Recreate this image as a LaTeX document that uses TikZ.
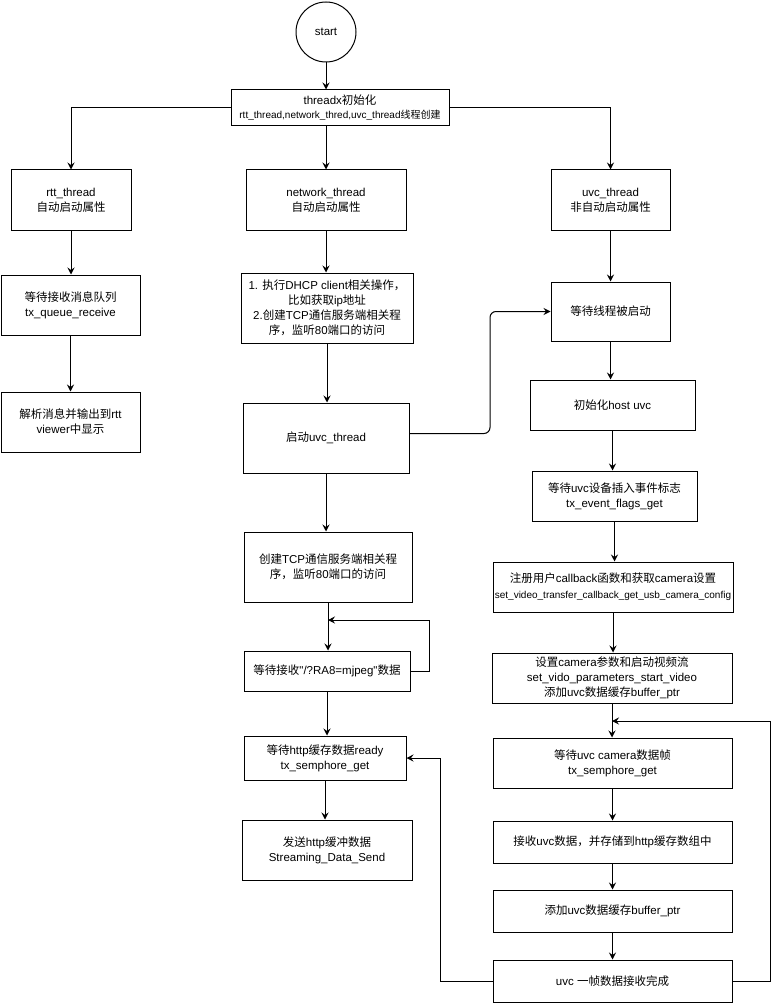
\documentclass[tikz,border=0pt]{standalone}
\usepackage{fontspec}
\setmainfont{Liberation Sans}
\newfontfamily\cjkfam{Noto Sans CJK SC}
\newXeTeXintercharclass\cjkcls
\newcount\cjkcc
\cjkcc="2E80 \loop\XeTeXcharclass\cjkcc=\cjkcls\advance\cjkcc by 1 \ifnum\cjkcc<"A000 \repeat
\cjkcc="FF00 \loop\XeTeXcharclass\cjkcc=\cjkcls\advance\cjkcc by 1 \ifnum\cjkcc<"FFF0 \repeat
\XeTeXinterchartoks 0 \cjkcls={\cjkfam}
\XeTeXinterchartoks 4095 \cjkcls={\cjkfam}
\XeTeXinterchartoks \cjkcls 0={\rmfamily}
\XeTeXinterchartoks \cjkcls 4095={\rmfamily}
\XeTeXinterchartokenstate=1
\usetikzlibrary{arrows.meta}
\begin{document}
\begin{tikzpicture}[x=1pt,y=-1pt,
  box/.style={draw, line width=1pt, inner sep=0pt, align=center, font=\fontsize{11.5}{15}\selectfont},
  arr/.style={-{Stealth[length=7pt,width=7pt,inset=2.5pt]}, line width=1pt},
  ln/.style={line width=1pt}]
\useasboundingbox (0,0) rectangle (780,1003);
% nodes
\node[box, circle, minimum size=60pt] (start) at (326,32) {start};
\node[box, minimum width=218pt, minimum height=36pt] (init) at (340,108) {threadx初始化\\[-1pt]{\fontsize{10}{11}\selectfont rtt\_thread,network\_thred,uvc\_thread线程创建}};
% left column
\node[box, minimum width=120pt, minimum height=60pt] (rtt) at (71,200) {rtt\_thread\\自动启动属性};
\node[box, minimum width=139pt, minimum height=60pt] (queue) at (70.5,305) {等待接收消息队列\\tx\_queue\_receive};
\node[box, minimum width=139pt, minimum height=60pt] (parse) at (70.5,422) {解析消息并输出到rtt\\viewer中显示};
% middle column
\node[box, minimum width=160pt, minimum height=60pt] (net) at (326,200) {network\_thread\\自动启动属性};
\node[box, minimum width=172pt, minimum height=70pt] (dhcp) at (327,308) {1. 执行DHCP client相关操作，\\比如获取ip地址\\2.创建TCP通信服务端相关程\\序，监听80端口的访问};
\node[box, minimum width=166pt, minimum height=70pt] (startuvc) at (326,438) {启动uvc\_thread};
\node[box, minimum width=168pt, minimum height=70pt] (tcp) at (328,567) {创建TCP通信服务端相关程\\序，监听80端口的访问};
\node[box, minimum width=166pt, minimum height=40pt] (waitrecv) at (327,671) {等待接收\textquotedbl/?RA8=mjpeg\textquotedbl 数据};
\node[box, minimum width=162pt, minimum height=44pt] (waithttp) at (325,758) {等待http缓存数据ready\\tx\_semphore\_get};
\node[box, minimum width=170pt, minimum height=60pt] (send) at (327,850) {发送http缓冲数据\\Streaming\_Data\_Send};
% right column
\node[box, minimum width=119pt, minimum height=60pt] (uvc) at (610.5,200) {uvc\_thread\\非自动启动属性};
\node[box, minimum width=119pt, minimum height=59pt] (waitstart) at (610.5,311.5) {等待线程被启动};
\node[box, minimum width=165pt, minimum height=50pt] (hostuvc) at (612.5,405) {初始化host uvc};
\node[box, minimum width=165pt, minimum height=50pt] (waitdev) at (614.5,496) {等待uvc设备插入事件标志\\tx\_event\_flags\_get};
\node[box, minimum width=240pt, minimum height=50pt] (reg) at (613,587) {注册用户callback函数和获取camera设置\\[1pt]{\fontsize{10}{11}\selectfont set\_video\_transfer\_callback\_get\_usb\_camera\_config}};
\node[box, minimum width=240pt, minimum height=50pt] (setcam) at (612,678) {设置camera参数和启动视频流\\set\_vido\_parameters\_start\_video\\添加uvc数据缓存buffer\_ptr};
\node[box, minimum width=239pt, minimum height=50pt] (waitframe) at (612.5,763) {等待uvc camera数据帧\\tx\_semphore\_get};
\node[box, minimum width=239pt, minimum height=42pt] (recv) at (612.5,842) {接收uvc数据，并存储到http缓存数组中};
\node[box, minimum width=239pt, minimum height=42pt] (addbuf) at (612.5,911) {添加uvc数据缓存buffer\_ptr};
\node[box, minimum width=239pt, minimum height=42pt] (done) at (612.5,981) {uvc 一帧数据接收完成};
% helper coordinates
\coordinate (r1) at (490,0);
\coordinate (m1) at (0,620);
\coordinate (rl) at (0,721);
% connectors
\draw[arr] (start.south) -- (start.south |- init.north);
\draw[arr] (init.west) -| (rtt.north);
\draw[arr] (init.east) -| (uvc.north);
\draw[arr] (net.north |- init.south) -- (net.north);
\draw[arr] (rtt.south) -- (rtt.south |- queue.north);
\draw[arr] (queue.south) -- (queue.south |- parse.north);
\draw[arr] (net.south) -- (net.south |- dhcp.north);
\draw[arr] (dhcp.south) -- (dhcp.south |- startuvc.north);
\draw[arr] (startuvc.south) -- (startuvc.south |- tcp.north);
\draw[arr] (tcp.south) -- (tcp.south |- waitrecv.north);
\draw[arr] (waitrecv.south) -- (waitrecv.south |- waithttp.north);
\draw[arr] (waithttp.south) -- (waithttp.south |- send.north);
\draw[arr] (waitrecv.east) -- ++(19,0) |- (tcp.south |- m1);
\draw[arr, rounded corners=6pt] ([yshift=4.5pt]startuvc.east) -| (r1 |- waitstart.west) -- (waitstart.west);
\draw[arr] (uvc.south) -- (uvc.south |- waitstart.north);
\draw[arr] (waitstart.south) -- (waitstart.south |- hostuvc.north);
\draw[arr] (hostuvc.south) -- (hostuvc.south |- waitdev.north);
\draw[arr] (waitdev.south) -- (waitdev.south |- reg.north);
\draw[arr] (reg.south) -- (reg.south |- setcam.north);
\draw[arr] (setcam.south) -- (setcam.south |- waitframe.north);
\draw[arr] (waitframe.south) -- (waitframe.south |- recv.north);
\draw[arr] (recv.south) -- (recv.south |- addbuf.north);
\draw[arr] (addbuf.south) -- (addbuf.south |- done.north);
\draw[arr] (done.east) -- ++(38,0) |- (setcam.south |- rl);
\draw[arr] (done.west) -- ++(-52,0) |- (waithttp.east);
\end{tikzpicture}
\end{document}
